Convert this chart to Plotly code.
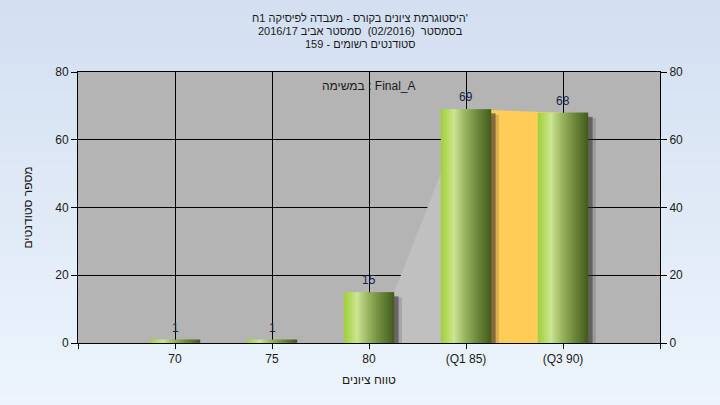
import plotly.graph_objects as go

# ---- data ----
categories = ["70", "75", "80", "(Q1 85)", "(Q3 90)"]
counts = [1, 1, 15, 69, 68]
y_ticks = [0, 20, 40, 60, 80]

title_lines = [
    "היסטוגרמת ציונים בקורס - מעבדה לפיסיקה 1ח'",
    "בסמסטר  (02/2016)  סמסטר אביב 2016/17",
    "סטודנטים רשומים - 159",
]
series_label = "במשימה : Final_A"
x_title = "טווח ציונים"
y_title = "מספר סטודנטים"

FONT = "Liberation Sans"
TXT = "#1a1a1a"

x = list(range(len(categories)))
W = 0.52

fig = go.Figure()

# shadows
fig.add_trace(go.Bar(x=x, y=counts, base=[-1.6] * len(x), width=[W + 0.06] * len(x),
                     offset=-W / 2 + 0.02, marker=dict(color="rgba(50,50,50,0.18)", line=dict(width=0)),
                     hoverinfo="skip", showlegend=False))
fig.add_trace(go.Bar(x=x, y=counts, base=[-1.2] * len(x), width=[W] * len(x),
                     offset=-W / 2 + 0.045, marker=dict(color="rgba(40,40,40,0.5)", line=dict(width=0)),
                     hoverinfo="skip", showlegend=False))

# cylinder gradient slices
stops = [
    (0.0, (160, 206, 62)),
    (0.1, (176, 216, 88)),
    (0.26, (202, 230, 146)),
    (0.45, (160, 186, 102)),
    (0.7, (112, 142, 62)),
    (1.0, (68, 90, 28)),
]


def grad(t):
    for (t0, c0), (t1, c1) in zip(stops[:-1], stops[1:]):
        if t0 <= t <= t1:
            f = (t - t0) / (t1 - t0)
            return "rgb(%d,%d,%d)" % tuple(round(a + (b - a) * f) for a, b in zip(c0, c1))
    return "rgb(%d,%d,%d)" % stops[-1][1]


N = 25
sw = W / N
for i in range(N):
    t = (i + 0.5) / N
    wi = sw * (1.6 if i < N - 1 else 1.0)
    fig.add_trace(go.Bar(x=x, y=counts, width=[wi] * len(x), offset=-W / 2 + i * sw,
                         marker=dict(color=grad(t), line=dict(width=0)),
                         hoverinfo="skip", showlegend=False))

# right axis anchor trace
fig.add_trace(go.Scatter(x=[x[0]], y=[0], yaxis="y2", mode="markers", marker=dict(opacity=0),
                         hoverinfo="skip", showlegend=False))

shapes = []
# background gradient
NB = 30
c_top = (210, 223, 241)
c_bot = (238, 245, 253)
for i in range(NB):
    f = i / (NB - 1)
    col = "rgb(%d,%d,%d)" % tuple(round(a + (b - a) * f) for a, b in zip(c_top, c_bot))
    shapes.append(dict(type="rect", xref="paper", yref="paper", layer="below",
                       x0=-0.2, x1=1.2, y0=1.3 - (i + 1) * 1.6 / NB - 0.005, y1=1.3 - i * 1.6 / NB,
                       fillcolor=col, line=dict(width=0)))
shapes.append(dict(type="rect", xref="x domain", yref="y domain", layer="below",
                   x0=0, x1=1, y0=0, y1=1, fillcolor="#b4b4b4", line=dict(width=0)))
# gray area from 80 to Q1
xa = x[2] + W / 2
shapes.append(dict(type="path", xref="x", yref="y", layer="between",
                   path=f"M {xa},0 L {xa},{counts[2]} L {x[3]},{counts[3]} L {x[3]},0 Z",
                   fillcolor="#c0c0c0", line=dict(width=0)))
# orange area Q1 to Q3
shapes.append(dict(type="path", xref="x", yref="y", layer="between",
                   path=f"M {x[3]},0 L {x[3]},{counts[3]} L {x[4]},{counts[4]} L {x[4]},0 Z",
                   fillcolor="#ffcc55", line=dict(width=0)))

annotations = []
for line, ypix in zip(title_lines, [18, 31, 44]):
    annotations.append(dict(xref="paper", yref="paper", x=(360 - 78) / 582, y=(343 - ypix) / 271,
                            text=line, showarrow=False, xanchor="center", yanchor="middle",
                            font=dict(family=FONT, size=11, color=TXT)))
annotations.append(dict(xref="paper", yref="paper", x=0.5, y=(343 - 86) / 271, text=series_label,
                        showarrow=False, xanchor="center", yanchor="middle",
                        font=dict(family=FONT, size=12, color=TXT)))
# value labels
for xi, v in zip(x, counts):
    annotations.append(dict(xref="x", yref="y", x=xi, y=v, text=str(v), showarrow=False,
                            xanchor="center", yanchor="bottom", yshift=3,
                            font=dict(family=FONT, size=12, color="#222244")))

axis_common = dict(showline=True, linecolor="black", linewidth=1, ticks="outside",
                   tickcolor="black", tickfont=dict(family=FONT, size=12, color=TXT))

fig.update_layout(
    width=720, height=405,
    margin=dict(l=78, r=60, t=72, b=62),
    paper_bgcolor="#e2ebf7",
    plot_bgcolor="#b4b4b4",
    barmode="overlay",
    showlegend=False,
    shapes=shapes,
    annotations=annotations,
    xaxis=dict(range=[-1, 5], tickvals=list(range(-1, 6)), ticktext=[""] + categories + [""],
               showgrid=True, gridcolor="black", gridwidth=1, zeroline=False, mirror=True, ticklen=5,
               title=dict(text=x_title, font=dict(family=FONT, size=12, color=TXT), standoff=10),
               **axis_common),
    yaxis=dict(range=[0, 80], tickvals=y_ticks, showgrid=True, gridcolor="black", gridwidth=1,
               zeroline=False, ticklen=6,
               title=dict(text=y_title, font=dict(family=FONT, size=12, color=TXT), standoff=20),
               **axis_common),
    yaxis2=dict(range=[0, 80], tickvals=y_ticks, overlaying="y", side="right", showgrid=False,
                zeroline=False, ticklen=6, **axis_common),
)

fig.write_html("out.html", config={"displayModeBar": False},
               post_script="document.body.style.margin='0';")
